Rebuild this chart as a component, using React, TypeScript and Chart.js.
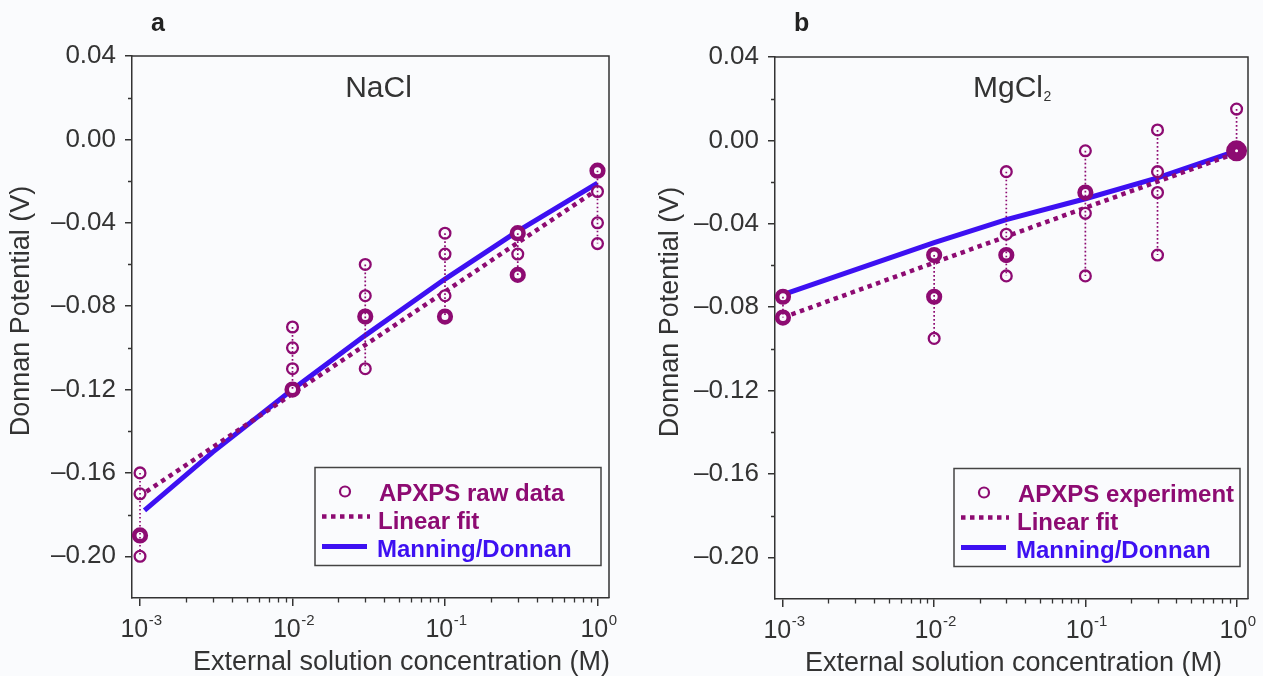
import React, { useEffect, useRef } from 'react';
import { Chart, registerables } from 'chart.js';

Chart.register(...registerables);

// ---------- data ----------
const concentrations = [1e-3, 1e-2, 3e-2, 0.1, 0.3, 1];

// panel a: NaCl
const naclRaw = [
  [-0.16, -0.17, -0.19, -0.2],
  [-0.09, -0.1, -0.11, -0.12],
  [-0.06, -0.075, -0.085, -0.11],
  [-0.045, -0.055, -0.075, -0.085],
  [-0.045, -0.055, -0.065],
  [-0.015, -0.025, -0.04, -0.05],
];
const naclRepeated = [[-0.19], [-0.12], [-0.085], [-0.085], [-0.045, -0.065], [-0.015]];
const naclFitX = [1.1e-3, 1];
const naclFitY = [-0.169, -0.024];
const naclModelX = [1.07e-3, 3e-3, 1e-2, 3e-2, 0.1, 0.3, 1];
const naclModelY = [-0.178, -0.15, -0.12, -0.094, -0.067, -0.044, -0.021];

// panel b: MgCl2
const mgRaw = [
  [-0.075, -0.085],
  [-0.055, -0.075, -0.095],
  [-0.015, -0.045, -0.055, -0.065],
  [-0.005, -0.025, -0.035, -0.065],
  [0.005, -0.015, -0.025, -0.055],
  [0.015, -0.005],
];
const mgRepeated = [[-0.075, -0.085], [-0.055, -0.075], [-0.055], [-0.025], [], []];
const mgHighlightX = [1];
const mgHighlightY = [-0.005];
const mgFitX = [1e-3, 1];
const mgFitY = [-0.085, -0.006];
const mgModelX = [1e-3, 1e-2, 3e-2, 0.1, 0.3, 1];
const mgModelY = [-0.074, -0.049, -0.038, -0.028, -0.018, -0.005];

// axes
const yTicks = [-0.2, -0.16, -0.12, -0.08, -0.04, 0, 0.04];
const yMinorTicks = [-0.18, -0.14, -0.1, -0.06, -0.02, 0.02];
const xMajorTicks = [1e-3, 1e-2, 1e-1, 1];
const xTickExponents = ['-3', '-2', '-1', '0'];
const xMinorMultipliers = [2, 3, 4, 5, 6, 7, 8, 9];
const X_MIN = 8.86e-4;
const X_MAX = 1.19;
const Y_MIN = -0.22;
const Y_MAX = 0.04;

// ---------- styles ----------
const BG = '#FAFBFD';
const PURPLE = '#8D0B72';
const BLUE = '#3D10F2';
const AXIS = '#333333';
const TEXT = '#333333';
const FAMILY = "'Liberation Sans', Arial, sans-serif";

const zip = (xs: number[], ys: number[]) => xs.map((x, i) => ({ x, y: ys[i] }));
const columnPoints = (cols: number[][]) =>
  cols.flatMap((vals, i) => vals.map((v) => ({ x: concentrations[i], y: v })));
const whiskerPoints = (cols: number[][]) =>
  cols.flatMap((vals, i) =>
    vals.length < 2
      ? []
      : [
          { x: concentrations[i], y: Math.max(...vals) },
          { x: concentrations[i], y: Math.min(...vals) },
          { x: concentrations[i], y: null as any },
        ]
  );

const fmtY = (v: number) => {
  if (Math.abs(v) < 1e-9) return '0.00';
  return (v < 0 ? '\u2013' : '') + Math.abs(v).toFixed(2);
};

interface PanelCfg {
  key: string;
  letter: string;
  legendFirst: string;
  raw: number[][];
  repeated: number[][];
  fitX: number[];
  fitY: number[];
  modelX: number[];
  modelY: number[];
  highlightX?: number[];
  highlightY?: number[];
  canvasWidth: number;
  padTop: number;
  xAxisHeight: number;
  xTitleDx: number;
  yTitleDx: number;
  salt: 'NaCl' | 'MgCl2';
}

function overlayPlugin(cfg: PanelCfg) {
  return {
    id: 'overlay_' + cfg.key,
    afterDraw(chart: any) {
      const { ctx, chartArea: a, scales } = chart;
      const x = scales.x;
      const y = scales.y;
      ctx.save();

      // frame top/right
      ctx.strokeStyle = AXIS;
      ctx.lineWidth = 1.5;
      ctx.setLineDash([]);
      ctx.beginPath();
      ctx.moveTo(a.left, a.top);
      ctx.lineTo(a.right, a.top);
      ctx.lineTo(a.right, a.bottom);
      ctx.stroke();

      // minor ticks
      ctx.lineWidth = 1.3;
      ctx.beginPath();
      for (const v of yMinorTicks) {
        const py = Math.round(y.getPixelForValue(v)) + 0.5;
        ctx.moveTo(a.left - 4, py);
        ctx.lineTo(a.left, py);
      }
      for (const dec of xMajorTicks.slice(0, 3)) {
        for (const m of xMinorMultipliers) {
          const px = Math.round(x.getPixelForValue(dec * m)) + 0.5;
          ctx.moveTo(px, a.bottom);
          ctx.lineTo(px, a.bottom + 4.5);
        }
      }
      ctx.stroke();

      // x tick labels with superscript
      ctx.fillStyle = TEXT;
      ctx.textBaseline = 'alphabetic';
      ctx.textAlign = 'left';
      xMajorTicks.forEach((v, i) => {
        const px = x.getPixelForValue(v);
        ctx.font = `25px ${FAMILY}`;
        const w1 = ctx.measureText('10').width;
        ctx.font = `15px ${FAMILY}`;
        const w2 = ctx.measureText(xTickExponents[i]).width;
        const start = px - (w1 + w2) / 2 + 1;
        ctx.font = `25px ${FAMILY}`;
        ctx.fillText('10', start, a.bottom + 39);
        ctx.font = `15px ${FAMILY}`;
        ctx.fillText(xTickExponents[i], start + w1 + 0.5, a.bottom + 27);
      });

      // x title
      ctx.font = `27px ${FAMILY}`;
      ctx.textAlign = 'center';
      ctx.fillText('External solution concentration (M)', (a.left + a.right) / 2 + cfg.xTitleDx, a.bottom + 72);

      // y title
      ctx.save();
      ctx.translate(a.left - cfg.yTitleDx, a.top + 255);
      ctx.rotate(-Math.PI / 2);
      ctx.textBaseline = 'middle';
      ctx.fillText('Donnan Potential (V)', 0, 0);
      ctx.restore();

      // panel letter
      ctx.font = `bold 25px ${FAMILY}`;
      ctx.textAlign = 'left';
      ctx.fillStyle = '#222';
      ctx.fillText(cfg.letter, a.left + 19, 31);

      // salt label
      ctx.fillStyle = TEXT;
      if (cfg.salt === 'NaCl') {
        ctx.font = `30px ${FAMILY}`;
        ctx.textAlign = 'center';
        ctx.fillText('NaCl', a.left + 246.5, a.top + 41);
      } else {
        ctx.font = `30px ${FAMILY}`;
        ctx.textAlign = 'left';
        const sx = a.left + 198;
        ctx.fillText('MgCl', sx, a.top + 40);
        const w = ctx.measureText('MgCl').width;
        ctx.font = `14px ${FAMILY}`;
        ctx.fillText('2', sx + w + 0.5, a.top + 44);
      }

      // legend
      const bw = 286;
      const bh = 98;
      const bx = a.right - 8 - bw;
      const by = a.bottom - 130.5;
      ctx.fillStyle = BG;
      ctx.fillRect(bx, by, bw, bh);
      ctx.strokeStyle = '#444';
      ctx.lineWidth = 1.5;
      ctx.strokeRect(bx, by, bw, bh);

      ctx.strokeStyle = PURPLE;
      ctx.lineWidth = 2.2;
      ctx.beginPath();
      ctx.arc(bx + 30, by + 24, 5, 0, Math.PI * 2);
      ctx.stroke();

      ctx.lineWidth = 4.5;
      ctx.setLineDash([4.5, 4.5]);
      ctx.beginPath();
      ctx.moveTo(bx + 7, by + 49);
      ctx.lineTo(bx + 55, by + 49);
      ctx.stroke();
      ctx.setLineDash([]);
      ctx.strokeStyle = BLUE;
      ctx.lineWidth = 5;
      ctx.beginPath();
      ctx.moveTo(bx + 7, by + 79);
      ctx.lineTo(bx + 52, by + 79);
      ctx.stroke();

      ctx.font = `bold 24px ${FAMILY}`;
      ctx.textAlign = 'left';
      ctx.fillStyle = PURPLE;
      ctx.fillText(cfg.legendFirst, bx + 64, by + 33);
      ctx.fillText('Linear fit', bx + 63, by + 61);
      ctx.fillStyle = BLUE;
      ctx.fillText('Manning/Donnan', bx + 62, by + 89);

      ctx.restore();
    },
  };
}

function buildConfig(cfg: PanelCfg): any {
  const datasets: any[] = [
    {
      label: 'Manning/Donnan',
      data: zip(cfg.modelX, cfg.modelY),
      showLine: true,
      borderColor: BLUE,
      borderWidth: 5,
      pointRadius: 0,
      order: 6,
    },
    {
      label: 'Linear fit',
      data: zip(cfg.fitX, cfg.fitY),
      showLine: true,
      borderColor: PURPLE,
      borderWidth: 4.5,
      borderDash: [4.5, 4.5],
      pointRadius: 0,
      order: 5,
    },
    {
      label: 'raw',
      data: columnPoints(cfg.raw),
      pointRadius: 5.4,
      pointBorderWidth: 2.3,
      pointBackgroundColor: BG,
      pointBorderColor: PURPLE,
      order: 4,
    },
    {
      label: 'repeated',
      data: columnPoints(cfg.repeated),
      pointRadius: 5.8,
      pointBorderWidth: 4.6,
      pointBackgroundColor: BG,
      pointBorderColor: PURPLE,
      order: 3,
    },
    {
      label: 'spread',
      data: whiskerPoints(cfg.raw),
      showLine: true,
      spanGaps: false,
      borderColor: PURPLE,
      borderWidth: 1.7,
      borderDash: [1.7, 2.3],
      pointRadius: 0,
      order: 2,
    },
  ];
  if (cfg.highlightX && cfg.highlightY) {
    datasets.push({
      label: 'highlight',
      data: zip(cfg.highlightX, cfg.highlightY),
      pointRadius: 6,
      pointBorderWidth: 9,
      pointBackgroundColor: '#ffffff',
      pointBorderColor: PURPLE,
      order: 1,
    });
  }
  return {
    type: 'scatter',
    data: { datasets },
    options: {
      responsive: false,
      animation: false,
      events: [],
      layout: { padding: { top: cfg.padTop, right: cfg.canvasWidth - 609, left: 0, bottom: 0 } },
      plugins: { legend: { display: false }, tooltip: { enabled: false }, title: { display: false } },
      scales: {
        x: {
          type: 'logarithmic',
          position: 'bottom',
          min: X_MIN,
          max: X_MAX,
          afterBuildTicks: (s: any) => {
            s.ticks = xMajorTicks.map((v) => ({ value: v }));
          },
          afterFit: (s: any) => {
            s.height = cfg.xAxisHeight;
          },
          ticks: { display: false },
          grid: { display: true, drawOnChartArea: false, drawTicks: true, tickLength: 8, color: AXIS, lineWidth: 1.5 },
          border: { display: true, color: AXIS, width: 1.5 },
        },
        y: {
          type: 'linear',
          position: 'left',
          min: Y_MIN,
          max: Y_MAX,
          afterBuildTicks: (s: any) => {
            s.ticks = yTicks.map((v) => ({ value: v }));
          },
          afterFit: (s: any) => {
            s.width = 132;
          },
          ticks: {
            callback: (v: any) => fmtY(Number(v)),
            font: { family: FAMILY, size: 26 },
            color: TEXT,
            padding: 9,
          },
          grid: { display: true, drawOnChartArea: false, drawTicks: true, tickLength: 7, color: AXIS, lineWidth: 1.5 },
          border: { display: true, color: AXIS, width: 1.5 },
        },
      },
    },
    plugins: [overlayPlugin(cfg)],
  };
}

const naclPanel: PanelCfg = {
  key: 'a',
  letter: 'a',
  legendFirst: 'APXPS raw data',
  raw: naclRaw,
  repeated: naclRepeated,
  fitX: naclFitX,
  fitY: naclFitY,
  modelX: naclModelX,
  modelY: naclModelY,
  canvasWidth: 643,
  padTop: 56,
  xAxisHeight: 78,
  xTitleDx: 31,
  yTitleDx: 110,
  salt: 'NaCl',
};

const mgPanel: PanelCfg = {
  key: 'b',
  letter: 'b',
  legendFirst: 'APXPS experiment',
  raw: mgRaw,
  repeated: mgRepeated,
  fitX: mgFitX,
  fitY: mgFitY,
  modelX: mgModelX,
  modelY: mgModelY,
  highlightX: mgHighlightX,
  highlightY: mgHighlightY,
  canvasWidth: 620,
  padTop: 57,
  xAxisHeight: 77,
  xTitleDx: 2,
  yTitleDx: 104,
  salt: 'MgCl2',
};

function Panel({ cfg, left }: { cfg: PanelCfg; left: number }) {
  const ref = useRef<HTMLCanvasElement>(null);
  useEffect(() => {
    if (!ref.current) return;
    const chart = new Chart(ref.current, buildConfig(cfg));
    return () => chart.destroy();
  }, [cfg]);
  return (
    <canvas
      ref={ref}
      width={cfg.canvasWidth}
      height={676}
      style={{ position: 'absolute', left, top: 0, width: cfg.canvasWidth, height: 676 }}
    />
  );
}

export default function App() {
  return (
    <div
      style={{
        position: 'fixed',
        left: 0,
        top: 0,
        width: 1263,
        height: 676,
        background: BG,
        overflow: 'hidden',
      }}
    >
      <Panel cfg={naclPanel} left={0} />
      <Panel cfg={mgPanel} left={643} />
    </div>
  );
}
